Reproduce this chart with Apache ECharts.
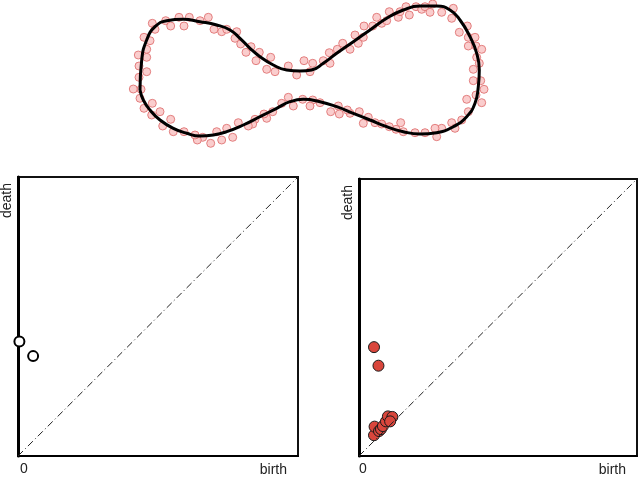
<!DOCTYPE html>
<html>
<head>
<meta charset="utf-8">
<script src="https://cdn.jsdelivr.net/npm/echarts@6/dist/echarts.min.js"></script>
<style>
  html, body { margin: 0; padding: 0; background: #fff; }
  #main { width: 640px; height: 477px; }
</style>
</head>
<body>
<div id="main"></div>
<script>
// sampled points around the curve (x, y in panel units, y up)
var samplePts = [
  [32.3,126.7],[35,120.7],[45.7,129.3],[50.7,124],[59,132.7],[64,124],[69.3,132.7],[80,129.3],
  [88.3,132.7],[94,120.7],[101.7,118.3],[106.7,120.7],[116.7,118.3],[115,111.7],[120.7,106],
  [126,97.7],[131,103.3],[136,89.3],[139.3,97.7],[146.7,80.7],[150.7,92.7],[155,78.3],
  [168.3,84],[176.7,75],[184,89.3],[190,78.3],[192.7,86.7],[203.3,89.3],[210,86.7],[209.3,97.3],
  [217.3,100.7],[222.7,106.7],[230,100.7],[235,115],[238.3,106.7],[243.3,112.7],[244,124],
  [252.7,124],[256.7,132.7],[261.7,126.7],[266.7,129.3],[269.3,138.3],[278.3,132.7],[280,138.3],
  [286,143.3],[289.3,135],[296,143.3],[301.7,140.7],[305,143.3],[310,137.7],[312.7,146],
  [321.7,137.7],[333.3,141.7],[331.7,131.7],[339.3,117.7],[347.3,124],[348.3,112.7],[348.3,104],
  [355,112.7],[356,104],[361.7,100.7],[356.7,92.7],[359.3,86.7],[353.3,80.7],[353.3,69.3],
  [360.7,69.3],[364,60.7],[356,55],[346.7,50.7],[361.7,47.3],[348.3,38.3],[341.7,30],
  [331.7,27.3],[335,21.7],[321.7,21.7],[316.7,13.3],[315,21.7],[305,17.3],[295,17.3],
  [283.3,18.3],[280.7,27.3],[276,20.7],[269.3,23.3],[261.7,26],[255,27.3],[248.3,32.7],
  [243.3,26.7],[239.3,38.3],[230,36.7],[227.3,40],[219.3,36],[218.3,44],[210.7,38.3],
  [200,47.3],[192.7,50],[190,44],[182.7,50.7],[173.3,44],[168.3,52.7],[161.7,46.7],
  [152.7,38.3],[146.7,31.7],[144,36],[135,30.7],[132.7,26],[128.3,24],[118.3,27.3],
  [112.7,12.7],[106.7,21.7],[101.7,10],[96.7,18.3],[90.7,6.7],[82.7,12.7],[77.3,10],[75,15],
  [64,18.3],[53.3,18.3],[50.7,30.7],[42.7,24],[40,38.3],[31.7,35],[32.3,46.7],[24,41.7],
  [20,51.7],[21,60.7],[13.3,61],[19,72.7],[26.7,78.3],[19,84],[26.7,92.7],[18.3,95],
  [26.7,100.7],[30,109.3],[24,112.7]
];

// the underlying closed curve
var curvePts = [
  [20,60],[21.7,90],[26.7,110],[35,123.3],[46.7,129.3],[63.3,130.7],[80,128.3],[96.7,125],
  [110,120],[120,111.7],[130,101.7],[140,93.3],[153.3,85],[166.7,80],[180,79],[191.7,80],
  [203.3,86.7],[216.7,96.7],[233.3,108.3],[250,120],[266.7,131.7],[283.3,140],[300,144],
  [316.7,144],[330,140],[340,130],[350,113.3],[356.7,96.7],[359.3,80],[358.3,63.3],[355,46.7],
  [346.7,33.3],[333.3,23.3],[316.7,17.3],[300,16],[283.3,18.3],[266.7,23.3],[250,30],
  [233.3,36.7],[216.7,43.3],[200,48.3],[183.3,50.7],[170,48.3],[156.7,41.7],[140,33.3],
  [123.3,25],[106.7,18.3],[93.3,15],[80,14],[66.7,16.7],[53.3,21.7],[40,30],[30,40],
  [23.3,50],[20,60]
];

// persistence diagrams: [birth, death]
var dgm0 = [[0.005,0.41],[0.054,0.358]];
var dgm1 = [
  [0.054,0.393],[0.070,0.326],
  [0.054,0.075],[0.056,0.106],[0.072,0.090],[0.079,0.097],[0.086,0.108],
  [0.097,0.125],[0.104,0.143],[0.120,0.141],[0.112,0.125]
];
var diag = [[0,0],[1,1]];

var txt = { color: '#222', fontSize: 14, fontFamily: 'Liberation Sans, Arial, sans-serif' };

function pdAxes(gi) {
  var x = {
    type: 'value', gridIndex: gi, min: 0, max: 1, interval: 1,
    axisLine: { show: true, lineStyle: { color: '#000', width: 2 } },
    axisTick: { show: false }, splitLine: { show: false },
    axisLabel: {
      formatter: function (v) { return v === 0 ? '0' : ''; },
      align: 'left', margin: 6, padding: [0, 0, 0, gi === 1 ? 2 : 0],
      color: txt.color, fontSize: 14, fontFamily: txt.fontFamily
    },
    name: 'birth', nameLocation: 'end', nameGap: -11,
    nameTextStyle: { align: 'right', verticalAlign: 'top', padding: [7, 0, 0, 0],
      color: txt.color, fontSize: 14, fontFamily: txt.fontFamily }
  };
  var y = {
    type: 'value', gridIndex: gi, min: 0, max: 1, interval: 1,
    axisLine: { show: true, lineStyle: { color: '#000', width: 3 } },
    axisTick: { show: false }, splitLine: { show: false }, axisLabel: { show: false },
    name: 'death', nameLocation: 'end', nameRotate: 90, nameGap: -6,
    nameTextStyle: { align: 'right', verticalAlign: 'bottom', padding: [0, 0, 4, 0],
      color: txt.color, fontSize: 14, fontFamily: txt.fontFamily }
  };
  return [x, y];
}

var ax1 = pdAxes(1), ax2 = pdAxes(2);
var diagStyle = { color: '#222', width: 1, type: [7, 3, 1, 3] };

var chart = echarts.init(document.getElementById('main'));
chart.setOption({
  backgroundColor: '#fff',
  animation: false,
  grid: [
    { left: 120, top: 0, width: 380, height: 150 },
    { left: 17, top: 177, width: 281, height: 280, show: true, borderColor: '#111', borderWidth: 2 },
    { left: 359, top: 179, width: 278, height: 279, show: true, borderColor: '#111', borderWidth: 2 }
  ],
  xAxis: [
    { type: 'value', gridIndex: 0, min: 0, max: 380, show: false },
    ax1[0], ax2[0]
  ],
  yAxis: [
    { type: 'value', gridIndex: 0, min: 0, max: 150, show: false },
    ax1[1], ax2[1]
  ],
  series: [
    {
      type: 'line', xAxisIndex: 0, yAxisIndex: 0, data: curvePts,
      smooth: true, showSymbol: false, symbol: 'none',
      lineStyle: { color: '#000', width: 3 }
    },
    {
      type: 'scatter', xAxisIndex: 0, yAxisIndex: 0, data: samplePts,
      symbolSize: 8,
      itemStyle: { color: '#f9c8c8', borderColor: '#e07474', borderWidth: 1, opacity: 0.9 }
    },
    {
      type: 'line', xAxisIndex: 1, yAxisIndex: 1, data: diag, symbol: 'none',
      lineStyle: diagStyle
    },
    {
      type: 'scatter', xAxisIndex: 1, yAxisIndex: 1, data: dgm0,
      symbolSize: 10,
      itemStyle: { color: '#fff', borderColor: '#000', borderWidth: 2, opacity: 1 }
    },
    {
      type: 'line', xAxisIndex: 2, yAxisIndex: 2, data: diag, symbol: 'none',
      lineStyle: diagStyle
    },
    {
      type: 'scatter', xAxisIndex: 2, yAxisIndex: 2, data: dgm1,
      symbolSize: 11,
      itemStyle: { color: '#d9463c', borderColor: '#1a1a1a', borderWidth: 1, opacity: 1 }
    }
  ]
});
</script>
</body>
</html>
